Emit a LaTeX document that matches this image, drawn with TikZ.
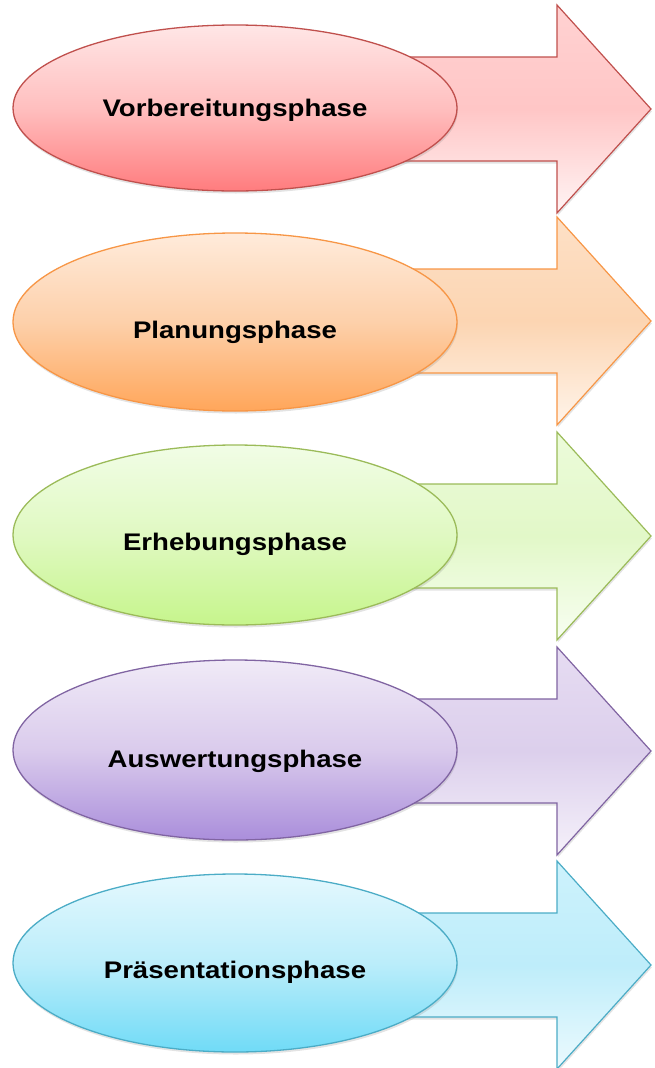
\documentclass[tikz,border=0pt]{standalone}
\usepackage{fontspec}
\newfontfamily\lab[FakeStretch=1.15]{Liberation Sans}
\usetikzlibrary{shapes.geometric,shadows}
% red
\definecolor{bdA}{HTML}{C0504D}\definecolor{etA}{HTML}{FFE6E6}\definecolor{emA}{HTML}{FFBFBF}\definecolor{ebA}{HTML}{FF7C7E}
\definecolor{atA}{HTML}{FFD2D2}\definecolor{amA}{HTML}{FFC6C6}\definecolor{abA}{HTML}{FFF4F4}
% orange
\definecolor{bdB}{HTML}{F79646}\definecolor{etB}{HTML}{FFEBDB}\definecolor{emB}{HTML}{FDD0AA}\definecolor{ebB}{HTML}{FFA65A}
\definecolor{atB}{HTML}{FDE0C6}\definecolor{amB}{HTML}{FCD5B2}\definecolor{abB}{HTML}{FFF4EA}
% green
\definecolor{bdC}{HTML}{9BBB59}\definecolor{etC}{HTML}{F1FDE6}\definecolor{emC}{HTML}{E0F9C2}\definecolor{ebC}{HTML}{C6F58C}
\definecolor{atC}{HTML}{ECFBDA}\definecolor{amC}{HTML}{E2F8C8}\definecolor{abC}{HTML}{F8FEF2}
% purple
\definecolor{bdD}{HTML}{8064A2}\definecolor{etD}{HTML}{F0EAF7}\definecolor{emD}{HTML}{DACBEC}\definecolor{ebD}{HTML}{AA8EDB}
\definecolor{atD}{HTML}{E6DCF2}\definecolor{amD}{HTML}{DCCFEC}\definecolor{abD}{HTML}{F5F1FA}
% cyan
\definecolor{bdE}{HTML}{4BACC6}\definecolor{etE}{HTML}{E4F8FE}\definecolor{emE}{HTML}{BBEDFA}\definecolor{ebE}{HTML}{70DBF7}
\definecolor{atE}{HTML}{CDF2FC}\definecolor{amE}{HTML}{BEEDFA}\definecolor{abE}{HTML}{ECFAFE}
\tikzset{
  phase/.style={ellipse, draw=bd#1, line width=1.3pt, inner sep=0pt,
    minimum width=444pt, top color=et#1, bottom color=eb#1, middle color=em#1,
    drop shadow={opacity=0.22, shadow xshift=0.8pt, shadow yshift=-2.5pt}},
  bigarrow/.style={draw=bd#1, line width=1.2pt, line join=miter,
    top color=at#1, bottom color=ab#1, middle color=am#1,
    drop shadow={opacity=0.22, shadow xshift=0.8pt, shadow yshift=-2.5pt}},
  lbl/.style={anchor=base, inner sep=0pt, font=\lab\bfseries\fontsize{24}{28}\selectfont},
}
\begin{document}
\begin{tikzpicture}[x=1pt,y=-1pt]
\useasboundingbox (0,0) rectangle (654,1068);
\foreach \k/\c/\ec/\eh/\bl/\name in {
  A/109/108/166/116/Vorbereitungsphase,
  B/321/322/178/338/Planungsphase,
  C/536/535/180/550/Erhebungsphase,
  D/751/750/180/767/Auswertungsphase,
  E/965/963/178/978/Präsentationsphase}{
  \path[bigarrow=\k] (300,\c-52) -- (557,\c-52) -- (557,\c-104) -- (651,\c)
     -- (557,\c+104) -- (557,\c+52) -- (300,\c+52) -- cycle;
  \node[phase=\k, minimum height=\eh pt] (e\k) at (235,\ec) {};
  \node[lbl] (t\k) at (235,\bl) {\name};
}
\end{tikzpicture}
\end{document}
